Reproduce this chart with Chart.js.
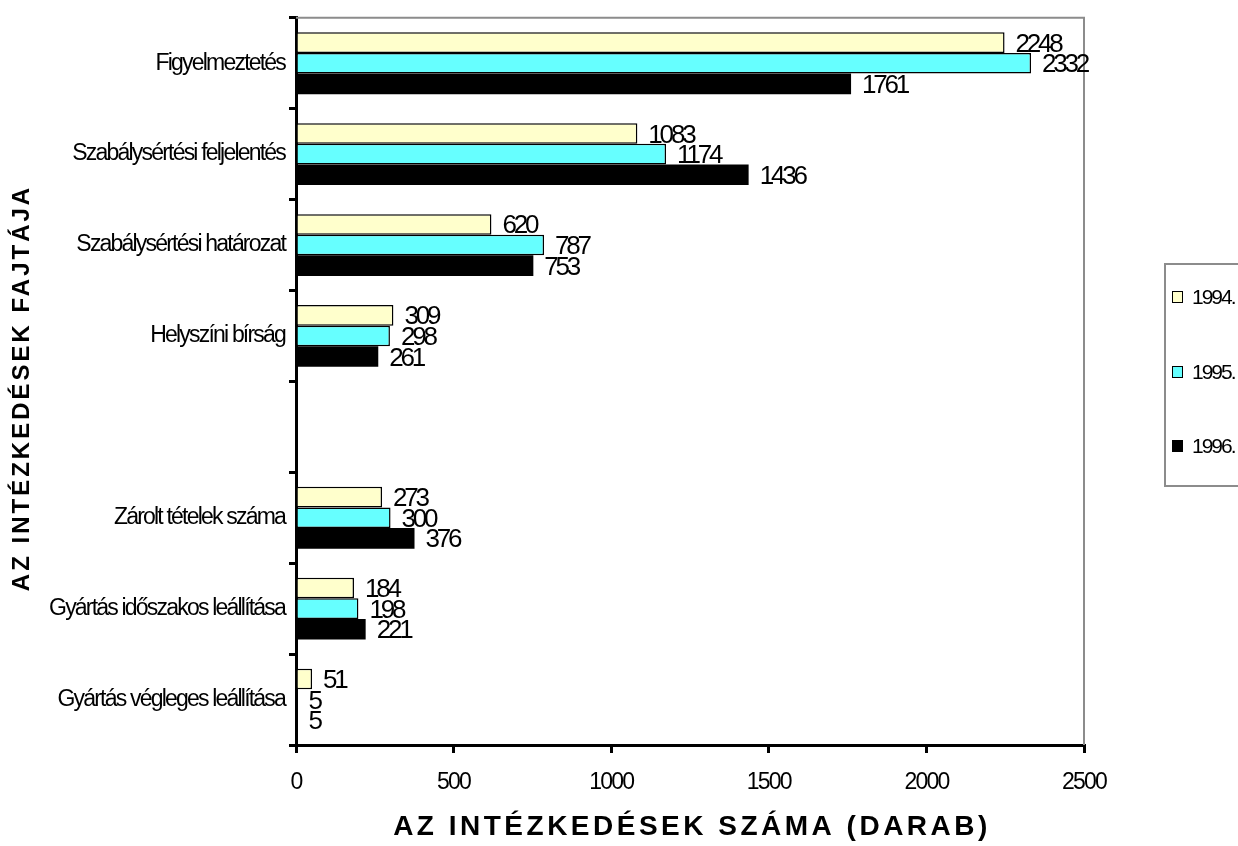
<!DOCTYPE html>
<html>
<head>
<meta charset="utf-8">
<script src="https://cdn.jsdelivr.net/npm/chart.js@4"></script>
<style>
html,body{margin:0;padding:0;background:#fff;}
canvas{display:block;}
</style>
</head>
<body>
<canvas id="chart" width="1238" height="846"></canvas>
<script>
// kategóriák (az üres sor a hézag a két csoport között)
const categories = [
  'Figyelmeztetés',
  'Szabálysértési feljelentés',
  'Szabálysértési határozat',
  'Helyszíni bírság',
  '',
  'Zárolt tételek száma',
  'Gyártás időszakos leállítása',
  'Gyártás végleges leállítása'
];
const years = ['1994.', '1995.', '1996.'];
const values1994 = [2248, 1083, 620, 309, null, 273, 184, 51];
const values1995 = [2332, 1174, 787, 298, null, 300, 198, 5];
const values1996 = [1761, 1436, 753, 261, null, 376, 221, 5];
const xMin = 0, xMax = 2500, xStep = 500;

const FONT = "'Liberation Sans', Arial, sans-serif";
const colors = ['#FFFFCC', '#66FFFF', '#000000'];

const extras = {
  id: 'extras',
  beforeDraw(chart) {
    chart.ctx.letterSpacing = '-1.8px';
  },
  beforeDatasetsDraw(chart) {
    const {ctx, chartArea: a} = chart;
    ctx.save();
    ctx.strokeStyle = '#8c8c8c';
    ctx.lineWidth = 2;
    ctx.beginPath();
    ctx.moveTo(a.left, a.top);
    ctx.lineTo(a.right, a.top);
    ctx.lineTo(a.right, a.bottom);
    ctx.stroke();
    ctx.restore();
  },
  afterDatasetsDraw(chart) {
    const ctx = chart.ctx;
    ctx.save();
    ctx.letterSpacing = '-3.2px';
    ctx.font = '26px ' + FONT;
    ctx.fillStyle = '#000';
    ctx.textAlign = 'left';
    ctx.textBaseline = 'alphabetic';
    chart.data.datasets.forEach((ds, i) => {
      chart.getDatasetMeta(i).data.forEach((bar, j) => {
        const v = ds.data[j];
        if (v == null) return;
        ctx.fillText(String(v), bar.x + 11, bar.y + 9);
      });
    });
    ctx.restore();
  },
  afterDraw(chart) {
    const {ctx, chartArea: a} = chart;
    ctx.save();
    // tengelycímek
    ctx.fillStyle = '#000';
    ctx.textAlign = 'center';
    ctx.textBaseline = 'alphabetic';
    ctx.font = 'bold 28px ' + FONT;
    ctx.letterSpacing = '3.5px';
    ctx.fillText('AZ INTÉZKEDÉSEK SZÁMA (DARAB)', (a.left + a.right) / 2 + 2, 835);
    ctx.save();
    ctx.translate(29, 388);
    ctx.rotate(-Math.PI / 2);
    ctx.font = 'bold 24px ' + FONT;
    ctx.letterSpacing = '3px';
    ctx.fillText('AZ INTÉZKEDÉSEK FAJTÁJA', 0, 0);
    ctx.restore();

    // jelmagyarázat
    ctx.strokeStyle = '#8c8c8c';
    ctx.lineWidth = 2;
    ctx.strokeRect(1165, 264, 90, 222);
    ctx.font = '21px ' + FONT;
    ctx.letterSpacing = '-2px';
    ctx.textAlign = 'left';
    const rows = [304, 379, 453];
    chart.data.datasets.forEach((ds, i) => {
      const y = rows[i];
      ctx.fillStyle = ds.backgroundColor;
      ctx.fillRect(1172, y - 13, 11, 12);
      ctx.strokeStyle = '#000';
      ctx.lineWidth = 1;
      ctx.strokeRect(1172.5, y - 12.5, 10, 11);
      ctx.fillStyle = '#000';
      ctx.fillText(ds.label, 1192, y);
    });
    ctx.restore();
    ctx.letterSpacing = '0px';
  }
};

new Chart(document.getElementById('chart'), {
  type: 'bar',
  data: {
    labels: categories,
    datasets: [
      {label: years[0], data: values1994, backgroundColor: colors[0], borderColor: '#000', borderWidth: 1.5},
      {label: years[1], data: values1995, backgroundColor: colors[1], borderColor: '#000', borderWidth: 1.5},
      {label: years[2], data: values1996, backgroundColor: colors[2], borderColor: '#000', borderWidth: 0}
    ]
  },
  options: {
    indexAxis: 'y',
    responsive: false,
    animation: false,
    categoryPercentage: 0.68,
    barPercentage: 1.0,
    layout: {padding: {left: 0, top: 16, right: 154, bottom: 0}},
    plugins: {
      legend: {display: false},
      tooltip: {enabled: false}
    },
    scales: {
      x: {
        min: xMin,
        max: xMax,
        ticks: {
          stepSize: xStep,
          color: '#000',
          padding: 16,
          font: {family: FONT, size: 23},
          callback: (v) => String(v)
        },
        grid: {drawOnChartArea: false, drawTicks: true, tickLength: 8, color: '#000', lineWidth: 3},
        border: {display: true, color: '#000', width: 3},
        afterFit(scale) { scale.height = 101; }
      },
      y: {
        ticks: {
          color: '#000',
          padding: 4,
          font: {family: FONT, size: 23}
        },
        grid: {drawOnChartArea: false, drawTicks: true, tickLength: 7, color: '#000', lineWidth: 3, offset: true},
        border: {display: true, color: '#000', width: 3},
        afterFit(scale) { scale.width = 296; }
      }
    }
  },
  plugins: [extras]
});
</script>
</body>
</html>
